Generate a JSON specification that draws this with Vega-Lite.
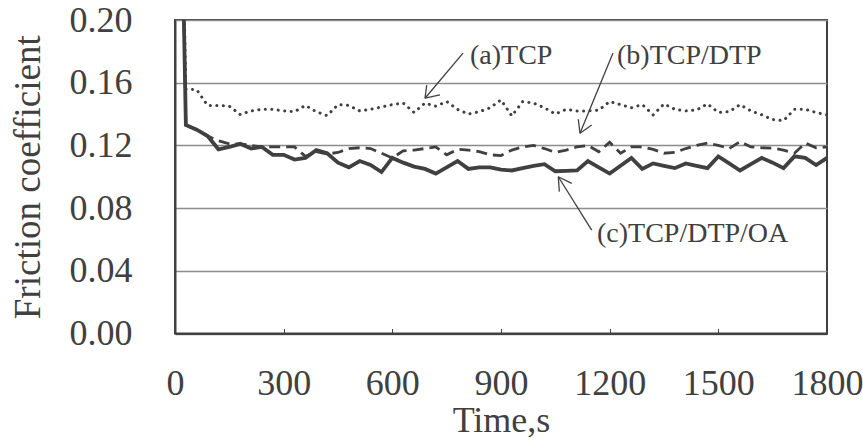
{
  "$schema": "https://vega.github.io/schema/vega-lite/v6.json",
  "width": 652,
  "height": 313.5,
  "autosize": {"type": "none"},
  "padding": {"left": 175, "top": 20, "right": 36, "bottom": 109.5},
  "background": "white",
  "config": {
    "view": {"stroke": "#404040", "strokeWidth": 2},
    "font": "Liberation Serif"
  },
  "datasets": {
    "series": [
      {"t": 0, "a": 0.5, "b": 0.5, "c": 0.5},
      {"t": 30, "a": 0.156, "b": 0.133, "c": 0.133},
      {"t": 60, "a": 0.1555, "b": 0.130, "c": 0.130},
      {"t": 90, "a": 0.1455, "b": 0.126, "c": 0.126},
      {"t": 120, "a": 0.1455, "b": 0.123, "c": 0.1175},
      {"t": 150, "a": 0.145, "b": 0.121, "c": 0.119},
      {"t": 180, "a": 0.1397, "b": 0.121, "c": 0.121},
      {"t": 210, "a": 0.142, "b": 0.120, "c": 0.118},
      {"t": 240, "a": 0.143, "b": 0.119, "c": 0.119},
      {"t": 270, "a": 0.143, "b": 0.119, "c": 0.114},
      {"t": 300, "a": 0.142, "b": 0.119, "c": 0.114},
      {"t": 330, "a": 0.1415, "b": 0.119, "c": 0.111},
      {"t": 360, "a": 0.1455, "b": 0.113, "c": 0.112},
      {"t": 390, "a": 0.1415, "b": 0.116, "c": 0.117},
      {"t": 420, "a": 0.139, "b": 0.1145, "c": 0.115},
      {"t": 450, "a": 0.146, "b": 0.1155, "c": 0.109},
      {"t": 480, "a": 0.1455, "b": 0.118, "c": 0.106},
      {"t": 510, "a": 0.142, "b": 0.1185, "c": 0.110},
      {"t": 540, "a": 0.143, "b": 0.118, "c": 0.1075},
      {"t": 570, "a": 0.1445, "b": 0.115, "c": 0.103},
      {"t": 600, "a": 0.146, "b": 0.112, "c": 0.112},
      {"t": 630, "a": 0.147, "b": 0.1165, "c": 0.109},
      {"t": 660, "a": 0.141, "b": 0.117, "c": 0.1065},
      {"t": 690, "a": 0.147, "b": 0.118, "c": 0.105},
      {"t": 720, "a": 0.145, "b": 0.119, "c": 0.102},
      {"t": 750, "a": 0.148, "b": 0.114, "c": 0.106},
      {"t": 780, "a": 0.143, "b": 0.1175, "c": 0.110},
      {"t": 810, "a": 0.140, "b": 0.117, "c": 0.105},
      {"t": 840, "a": 0.1415, "b": 0.116, "c": 0.106},
      {"t": 870, "a": 0.144, "b": 0.114, "c": 0.106},
      {"t": 900, "a": 0.149, "b": 0.1135, "c": 0.1045},
      {"t": 930, "a": 0.1388, "b": 0.117, "c": 0.104},
      {"t": 960, "a": 0.148, "b": 0.119, "c": 0.1055},
      {"t": 990, "a": 0.147, "b": 0.120, "c": 0.107},
      {"t": 1020, "a": 0.144, "b": 0.118, "c": 0.108},
      {"t": 1050, "a": 0.140, "b": 0.1155, "c": 0.1035},
      {"t": 1080, "a": 0.143, "b": 0.117, "c": 0.1037},
      {"t": 1110, "a": 0.142, "b": 0.119, "c": 0.104},
      {"t": 1140, "a": 0.142, "b": 0.120, "c": 0.110},
      {"t": 1170, "a": 0.1425, "b": 0.116, "c": 0.106},
      {"t": 1200, "a": 0.148, "b": 0.122, "c": 0.102},
      {"t": 1230, "a": 0.146, "b": 0.115, "c": 0.107},
      {"t": 1260, "a": 0.144, "b": 0.119, "c": 0.112},
      {"t": 1290, "a": 0.146, "b": 0.119, "c": 0.105},
      {"t": 1320, "a": 0.1395, "b": 0.1175, "c": 0.1085},
      {"t": 1350, "a": 0.1465, "b": 0.115, "c": 0.107},
      {"t": 1380, "a": 0.143, "b": 0.1155, "c": 0.1055},
      {"t": 1410, "a": 0.142, "b": 0.118, "c": 0.1085},
      {"t": 1440, "a": 0.1426, "b": 0.120, "c": 0.107},
      {"t": 1470, "a": 0.1465, "b": 0.1215, "c": 0.1055},
      {"t": 1500, "a": 0.141, "b": 0.120, "c": 0.113},
      {"t": 1530, "a": 0.1415, "b": 0.118, "c": 0.1085},
      {"t": 1560, "a": 0.146, "b": 0.1224, "c": 0.104},
      {"t": 1590, "a": 0.142, "b": 0.119, "c": 0.108},
      {"t": 1620, "a": 0.1395, "b": 0.1185, "c": 0.112},
      {"t": 1650, "a": 0.1365, "b": 0.1183, "c": 0.109},
      {"t": 1680, "a": 0.1358, "b": 0.117, "c": 0.1055},
      {"t": 1710, "a": 0.143, "b": 0.115, "c": 0.113},
      {"t": 1740, "a": 0.143, "b": 0.1215, "c": 0.112},
      {"t": 1770, "a": 0.141, "b": 0.1185, "c": 0.1075},
      {"t": 1800, "a": 0.1395, "b": 0.119, "c": 0.112}
    ],
    "arrows": [
      {"x1": 795.1, "y1": 0.1789, "x2": 690.2, "y2": 0.1501},
      {"x1": 690.2, "y1": 0.1501, "x2": 694.9, "y2": 0.1585},
      {"x1": 690.2, "y1": 0.1501, "x2": 731.6, "y2": 0.1522},
      {"x1": 1209.2, "y1": 0.1789, "x2": 1118.1, "y2": 0.1277},
      {"x1": 1118.1, "y1": 0.1277, "x2": 1113.4, "y2": 0.1367},
      {"x1": 1118.1, "y1": 0.1277, "x2": 1150.4, "y2": 0.1330},
      {"x1": 1150.4, "y1": 0.0660, "x2": 1058.2, "y2": 0.1000},
      {"x1": 1058.2, "y1": 0.1000, "x2": 1061.0, "y2": 0.0905},
      {"x1": 1058.2, "y1": 0.1000, "x2": 1095.2, "y2": 0.0958}
    ],
    "labels": [
      {"x": 814.4, "y": 0.1719, "text": "(a)TCP"},
      {"x": 1220.2, "y": 0.1719, "text": "(b)TCP/DTP"},
      {"x": 1165.0, "y": 0.0584, "text": "(c)TCP/DTP/OA"}
    ]
  },
  "layer": [
    {
      "data": {"name": "series"},
      "mark": {"type": "line", "clip": true, "color": "#404040", "strokeWidth": 3, "strokeDash": [0.1, 6.4], "strokeCap": "round"},
      "encoding": {
        "x": {
          "field": "t", "type": "quantitative",
          "scale": {"domain": [0, 1800], "nice": false, "zero": false},
          "axis": {
            "values": [0, 300, 600, 900, 1200, 1500, 1800],
            "format": "d",
            "title": "Time,s",
            "grid": false,
            "domainColor": "#404040", "domainWidth": 2,
            "ticks": true, "tickSize": -5, "tickColor": "#404040", "tickWidth": 1,
            "labelFont": "Liberation Serif", "labelFontSize": 36, "labelColor": "#404040",
            "labelBaseline": "middle", "labelPadding": 55, "labelFlush": false, "labelOverlap": false,
            "titleFont": "Liberation Serif", "titleFontSize": 36, "titleFontWeight": "normal", "titleColor": "#404040",
            "titleBaseline": "middle", "titleY": 87
          }
        },
        "y": {
          "field": "a", "type": "quantitative",
          "scale": {"domain": [0, 0.2], "nice": false, "zero": true},
          "axis": {
            "values": [0, 0.04, 0.08, 0.12, 0.16, 0.2],
            "format": ".2f",
            "title": "Friction coefficient",
            "grid": true, "gridColor": "#8c8c8c", "gridWidth": 1.3,
            "domainColor": "#404040", "domainWidth": 2,
            "ticks": false,
            "labelFont": "Liberation Serif", "labelFontSize": 36, "labelColor": "#404040",
            "labelPadding": 43, "labelFlush": false, "labelOverlap": false,
            "titleFont": "Liberation Serif", "titleFontSize": 37, "titleFontWeight": "normal", "titleColor": "#404040",
            "titleBaseline": "middle", "titleX": -147, "titleY": 156.75
          }
        }
      }
    },
    {
      "data": {"name": "series"},
      "mark": {"type": "line", "clip": true, "color": "#404040", "strokeWidth": 2.8, "strokeDash": [11, 6]},
      "encoding": {
        "x": {"field": "t", "type": "quantitative"},
        "y": {"field": "b", "type": "quantitative"}
      }
    },
    {
      "data": {"name": "series"},
      "mark": {"type": "line", "clip": true, "color": "#404040", "strokeWidth": 3.8, "strokeJoin": "miter"},
      "encoding": {
        "x": {"field": "t", "type": "quantitative"},
        "y": {"field": "c", "type": "quantitative"}
      }
    },
    {
      "data": {"name": "arrows"},
      "mark": {"type": "rule", "color": "#404040", "strokeWidth": 1.3},
      "encoding": {
        "x": {"field": "x1", "type": "quantitative"},
        "y": {"field": "y1", "type": "quantitative"},
        "x2": {"field": "x2"},
        "y2": {"field": "y2"}
      }
    },
    {
      "data": {"name": "labels"},
      "mark": {"type": "text", "font": "Liberation Serif", "fontSize": 28, "color": "#404040", "align": "left", "baseline": "alphabetic"},
      "encoding": {
        "x": {"field": "x", "type": "quantitative"},
        "y": {"field": "y", "type": "quantitative"},
        "text": {"field": "text"}
      }
    }
  ]
}
